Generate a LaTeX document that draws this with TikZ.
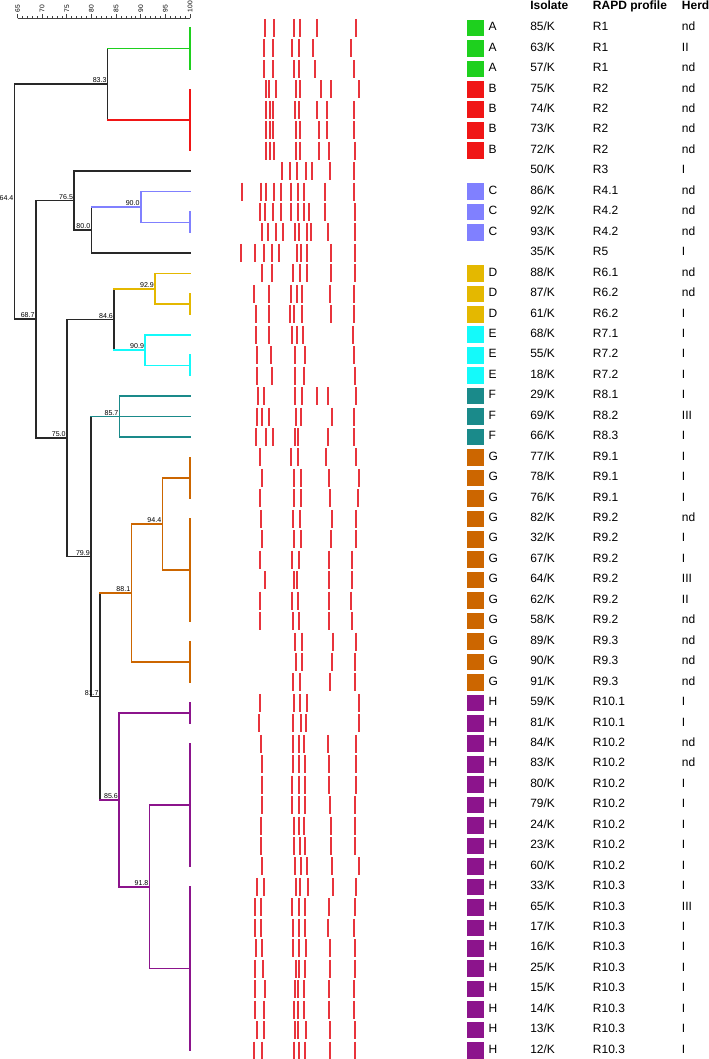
\documentclass[tikz,border=0pt]{standalone}
\usepackage{fontspec}
\setmainfont{Liberation Sans}
\usetikzlibrary{calc}

\definecolor{clA}{RGB}{30,208,30}
\definecolor{clB}{RGB}{240,22,22}
\definecolor{clC}{RGB}{128,128,255}
\definecolor{clD}{RGB}{228,184,0}
\definecolor{clE}{RGB}{20,250,250}
\definecolor{clF}{RGB}{26,138,138}
\definecolor{clG}{RGB}{204,102,0}
\definecolor{clH}{RGB}{140,20,140}
\definecolor{band}{RGB}{232,52,60}
\definecolor{tree}{RGB}{40,40,40}

% similarity (%) to x, row number to y
\newcommand{\simx}[1]{17.5+4.93*(#1-65)}
\newcommand{\rowy}[1]{28+(#1-1)*20.45}

\begin{document}
\begin{tikzpicture}[x=0.75pt, y=-0.75pt, font={\fontsize{9}{10}\selectfont},
every node/.style={inner sep=0pt},
link/.style={line width=1.15pt, tree, line cap=rect},
axisline/.style={line width=0.55pt, black!75},
simlabel/.style={anchor=south east, inner sep=0.7pt, font={\fontsize{5.3}{5.3}\selectfont}},
scalelabel/.style={anchor=west, rotate=90, font={\fontsize{5}{5}\selectfont}},
bandline/.style={line width=1.5pt, band},
cell/.style={anchor=base west},
head/.style={anchor=base west, font={\fontsize{9}{10}\selectfont\bfseries}},
]

\useasboundingbox (0,0) rectangle (708,1059);

% similarity scale
\draw[axisline] ({\simx{65}},18.3) -- ({\simx{100}},18.3);
\foreach \v in {65,...,100}
  \draw[axisline] ({\simx{\v}},18.3) -- ++(0,-2);
\foreach \v in {65,70,...,100} {
  \draw[axisline] ({\simx{\v}},18.3) -- ++(0,-4);
  \node[scalelabel] (s\v) at ({\simx{\v}},12.6) {\v};
}

% leaves
\foreach \i in {1,...,51}
  \coordinate (l\i) at (190,{\rowy{\i}});

\coordinate (bA) at ($(l1)!0.5!(l3)$);
\coordinate (bB) at ($(l4)!0.5!(l7)$);
\coordinate (bC) at ($(l10)!0.5!(l11)$);
\coordinate (bD) at ($(l14)!0.5!(l15)$);
\coordinate (bE) at ($(l17)!0.5!(l18)$);
\coordinate (bG1) at ($(l22)!0.5!(l24)$);
\coordinate (bG2) at ($(l25)!0.5!(l30)$);
\coordinate (bG3) at ($(l31)!0.5!(l33)$);
\coordinate (bH1) at ($(l34)!0.5!(l35)$);
\coordinate (bH2) at ($(l36)!0.5!(l42)$);
\coordinate (bH3) at ($(l43)!0.5!(l51)$);

% joins
\coordinate (r644) at ({\simx{64.4}},201.75);
\coordinate (n833) at ({\simx{83.3}},84.24);
\coordinate (n687) at ({\simx{68.7}},319.26);
\coordinate (n765) at ({\simx{76.5}},200.55);
\coordinate (n800) at ({\simx{80.0}},229.95);
\coordinate (n900) at ({\simx{90.0}},206.94);
\coordinate (n750) at ({\simx{75.0}},437.97);
\coordinate (n846) at ({\simx{84.6}},319.42);
\coordinate (n929) at ({\simx{92.9}},288.74);
\coordinate (n909) at ({\simx{90.9}},350.09);
\coordinate (n799) at ({\simx{79.9}},556.51);
\coordinate (n857) at ({\simx{85.7}},416.55);
\coordinate (n817) at ({\simx{81.7}},696.47);
\coordinate (n881) at ({\simx{88.1}},592.94);
\coordinate (n944) at ({\simx{94.4}},523.92);
\coordinate (n856) at ({\simx{85.6}},799.99);
\coordinate (n918) at ({\simx{91.8}},886.9);

% identical profiles
\draw[link, clA] (l1) -- (l3);
\draw[link, clB] (l4) -- (l7);
\draw[link, clC] (l10) -- (l11);
\draw[link, clD] (l14) -- (l15);
\draw[link, clE] (l17) -- (l18);
\draw[link, clG] (l22) -- (l24);
\draw[link, clG] (l25) -- (l30);
\draw[link, clG] (l31) -- (l33);
\draw[link, clH] (l34) -- (l35);
\draw[link, clH] (l36) -- (l42);
\draw[link, clH] (l43) -- (l51);

% verticals
\draw[link] (r644 |- n833) -- (r644 |- n687);
\draw[link] (n833 |- bA) -- (n833 |- bB);
\draw[link] (n687 |- n765) -- (n687 |- n750);
\draw[link] (n765 |- l8) -- (n765 |- n800);
\draw[link] (n800 |- n900) -- (n800 |- l12);
\draw[link, clC] (n900 |- l9) -- (n900 |- bC);
\draw[link] (n750 |- n846) -- (n750 |- n799);
\draw[link] (n846 |- n929) -- (n846 |- n909);
\draw[link, clD] (n929 |- l13) -- (n929 |- bD);
\draw[link, clE] (n909 |- l16) -- (n909 |- bE);
\draw[link] (n799 |- n857) -- (n799 |- n817);
\draw[link, clF] (n857 |- l19) -- (n857 |- l21);
\draw[link] (n817 |- n881) -- (n817 |- n856);
\draw[link, clG] (n881 |- n944) -- (n881 |- bG3);
\draw[link, clG] (n944 |- bG1) -- (n944 |- bG2);
\draw[link, clH] (n856 |- bH1) -- (n856 |- n918);
\draw[link, clH] (n918 |- bH2) -- (n918 |- bH3);

% horizontals
\draw[link] (n833) -- (n833 -| r644);
\draw[link] (n687) -- (n687 -| r644);
\draw[link, clA] (bA) -- (bA -| n833);
\draw[link, clB] (bB) -- (bB -| n833);
\draw[link] (n765) -- (n765 -| n687);
\draw[link] (n750) -- (n750 -| n687);
\draw[link] (l8) -- (l8 -| n765);
\draw[link] (n800) -- (n800 -| n765);
\draw[link, clC] (n900) -- (n900 -| n800);
\draw[link] (l12) -- (l12 -| n800);
\draw[link, clC] (l9) -- (l9 -| n900);
\draw[link, clC] (bC) -- (bC -| n900);
\draw[link] (n846) -- (n846 -| n750);
\draw[link] (n799) -- (n799 -| n750);
\draw[link, clD] (n929) -- (n929 -| n846);
\draw[link, clE] (n909) -- (n909 -| n846);
\draw[link, clD] (l13) -- (l13 -| n929);
\draw[link, clD] (bD) -- (bD -| n929);
\draw[link, clE] (l16) -- (l16 -| n909);
\draw[link, clE] (bE) -- (bE -| n909);
\draw[link, clF] (n857) -- (n857 -| n799);
\draw[link, clF] (l19) -- (l19 -| n857);
\draw[link, clF] (l20) -- (l20 -| n857);
\draw[link, clF] (l21) -- (l21 -| n857);
\draw[link] (n817) -- (n817 -| n799);
\draw[link, clG] (n881) -- (n881 -| n817);
\draw[link, clH] (n856) -- (n856 -| n817);
\draw[link, clG] (n944) -- (n944 -| n881);
\draw[link, clG] (bG3) -- (bG3 -| n881);
\draw[link, clG] (bG1) -- (bG1 -| n944);
\draw[link, clG] (bG2) -- (bG2 -| n944);
\draw[link, clH] (bH1) -- (bH1 -| n856);
\draw[link, clH] (n918) -- (n918 -| n856);
\draw[link, clH] (bH2) -- (bH2 -| n918);
\draw[link, clH] (bH3) -- (bH3 -| n918);

% similarity values
\foreach \n/\t in {r644/64.4, n833/83.3, n687/68.7, n765/76.5, n800/80.0,
  n900/90.0, n750/75.0, n846/84.6, n929/92.9, n909/90.9, n799/79.9,
  n857/85.7, n817/81.7, n881/88.1, n944/94.4, n856/85.6, n918/91.8}
  \node[simlabel] (t\n) at (\n) {\t};

% RAPD bands
\foreach \i/\bl in {
  1/{265.3,274,293.7,300.3,316.7,355.7},
  2/{264.3,272.7,291.7,298.7,313,350.7},
  3/{264.3,273.3,293.7,299.3,315.3,354},
  4/{266,269.3,275.7,296.3,300.3,321.3,331.3,359},
  5/{266.3,270.3,273.3,295.3,299.3,317.3,327.3,354.3},
  6/{266.3,270,273.3,295.7,299.7,318.7,326.7,354.3},
  7/{266.3,270,273.7,296.3,300.3,318.7,328.7,354.7},
  8/{282.3,290.3,297,306,312,329.7,354},
  9/{241.7,261,266,273.7,281,291,297.7,304,324.7,353.7},
  10/{259.7,265,273,281,291,298,303.7,309,325.3,354.7},
  11/{262,268.3,275.7,283,295,299.3,307,311.3,327.7,355},
  12/{241,254.7,264.3,271.7,279.3,296.7,301.3,307,330.7,355},
  13/{262,272,292.7,300,307,330.7,355},
  14/{254,268.7,290.7,296.7,302,330,354},
  15/{255.7,269.3,289.7,294.3,302,330.7,354},
  16/{255.7,269,292,296.7,302.7,353},
  17/{257.3,271.3,295.3,304.7,354},
  18/{257.3,272.3,295.3,303.7,354.7},
  19/{257.7,264,295.3,301.7,317,327.7,355.7},
  20/{257,262.3,269.3,295.7,300.7,331.7,354.3},
  21/{256.3,265.7,273,294.7,298,327.7,354.3},
  22/{260,291,298.3,326.3,355.7},
  23/{261.7,293.7,300.7,329,358.7},
  24/{260.3,294.3,301,330.3,358.3},
  25/{260.7,293,299.7,331.7,355.7},
  26/{261.7,294,301,330.7,356},
  27/{260.3,292,299,328.7,352},
  28/{264.7,294.3,297.3,329.3,352.3},
  29/{259.7,291.7,298.3,328.7,351},
  30/{260.3,292.7,299,329.3,352.3},
  31/{295,301.7,333,355.7},
  32/{295.7,301.7,332,354.7},
  33/{293.3,299.7,329.7,355},
  34/{260.3,294,300.3,306.7,359},
  35/{259,293.3,300.7,306.3,359},
  36/{261.3,292.7,299,304.3,328,356},
  37/{261.7,292.7,299,304.7,329,356.3},
  38/{261.7,291.7,299,304.7,329,355.7},
  39/{262,292,299,304.7,329.7,355.3},
  40/{261,294.3,298.7,304.3,330.7,355},
  41/{261,294.3,300,304.7,330.7,354.7},
  42/{261.7,295,301,306.7,331.7,359},
  43/{257,264.3,296.3,300.3,307.7,332.7,356.3},
  44/{255.3,261,292,299.3,305,329,355.3},
  45/{255.3,260.7,292.7,299.3,304.7,327.7,354.3},
  46/{256.3,261.7,292.7,299,306.3,329.7,355},
  47/{255,262.7,295.7,298.7,305,330.3,355},
  48/{254.7,264.7,294.7,298,304,329.3,354},
  49/{254.7,263.7,294.3,298.3,304.3,329.3,354.3},
  50/{257,264.3,294.7,298.3,306,330,355},
  51/{253.7,261.7,294.3,299,304.7,330,354.7}}
  \foreach \x in \bl
    \draw[bandline] (\x,{\rowy{\i}-9}) -- (\x,{\rowy{\i}+9});

% cluster swatches
\foreach \cl/\a/\b in {A/1/3, B/4/7, C/9/11, D/13/15, E/16/18, F/19/21, G/22/33, H/34/51}
  \foreach \i in {\a,...,\b} {
    \fill[fill=cl\cl] (466.7,{\rowy{\i}-8.3}) rectangle (484,{\rowy{\i}+8.3});
    \node[cell] (g\i) at (488.3,{\rowy{\i}+2.7}) {\cl};
  }

% table
\node[head] (hiso) at (530,9.3) {Isolate};
\node[head] (hrapd) at (592.7,9.3) {RAPD profile};
\node[head] (hherd) at (681.7,9.3) {Herd};

\foreach \i/\iso/\rp/\hd in {1/85/R1/nd, 2/63/R1/II, 3/57/R1/nd, 4/75/R2/nd,
  5/74/R2/nd, 6/73/R2/nd, 7/72/R2/nd, 8/50/R3/I, 9/86/R4.1/nd, 10/92/R4.2/nd,
  11/93/R4.2/nd, 12/35/R5/I, 13/88/R6.1/nd, 14/87/R6.2/nd, 15/61/R6.2/I,
  16/68/R7.1/I, 17/55/R7.2/I, 18/18/R7.2/I, 19/29/R8.1/I, 20/69/R8.2/III,
  21/66/R8.3/I, 22/77/R9.1/I, 23/78/R9.1/I, 24/76/R9.1/I, 25/82/R9.2/nd,
  26/32/R9.2/I, 27/67/R9.2/I, 28/64/R9.2/III, 29/62/R9.2/II, 30/58/R9.2/nd,
  31/89/R9.3/nd, 32/90/R9.3/nd, 33/91/R9.3/nd, 34/59/R10.1/I, 35/81/R10.1/I,
  36/84/R10.2/nd, 37/83/R10.2/nd, 38/80/R10.2/I, 39/79/R10.2/I, 40/24/R10.2/I,
  41/23/R10.2/I, 42/60/R10.2/I, 43/33/R10.3/I, 44/65/R10.3/III, 45/17/R10.3/I,
  46/16/R10.3/I, 47/25/R10.3/I, 48/15/R10.3/I, 49/14/R10.3/I, 50/13/R10.3/I,
  51/12/R10.3/I} {
  \node[cell] (iso\i) at (530,{\rowy{\i}+2.7}) {\iso/K};
  \node[cell] (rp\i) at (592.7,{\rowy{\i}+2.7}) {\rp};
  \node[cell] (hd\i) at (681.7,{\rowy{\i}+2.7}) {\hd};
}

\end{tikzpicture}
\end{document}
